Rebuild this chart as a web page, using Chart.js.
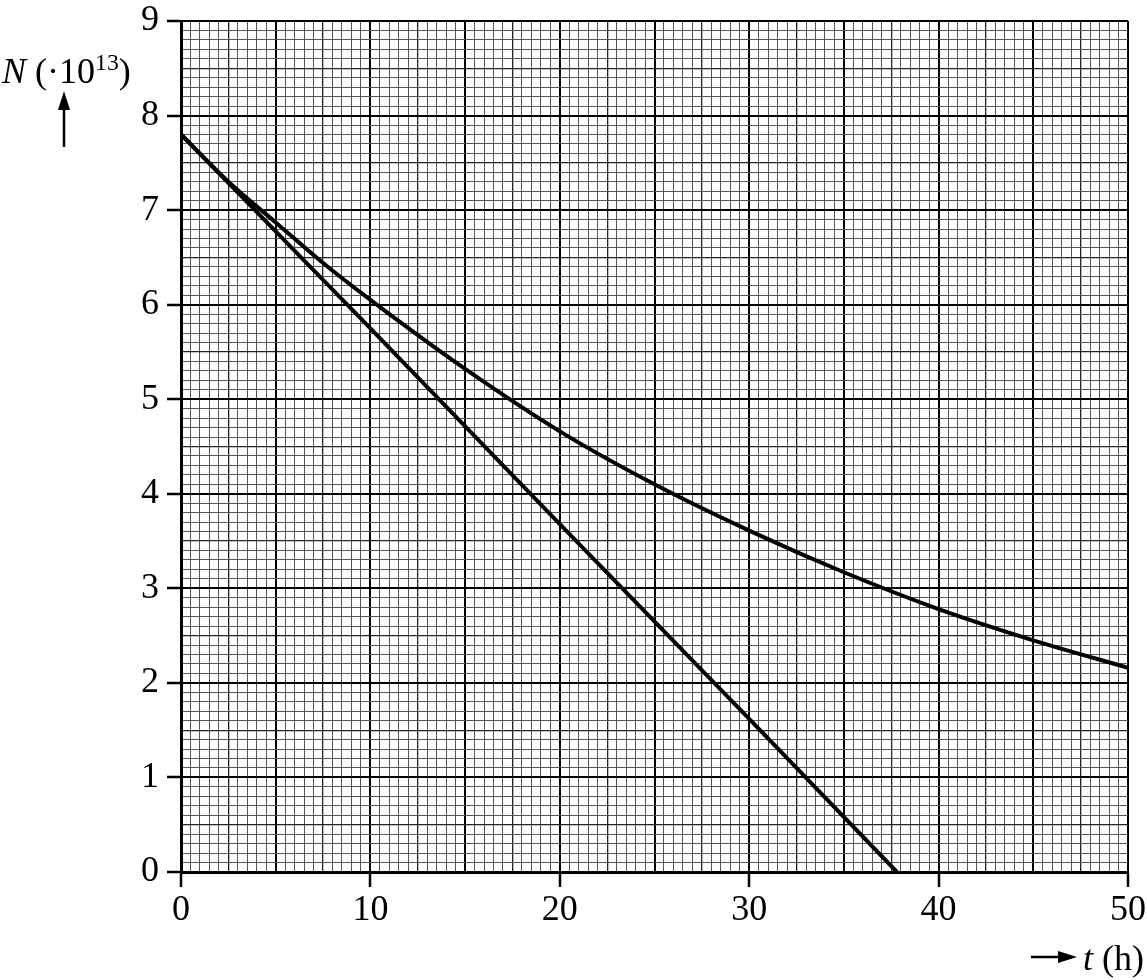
<!DOCTYPE html>
<html>
<head>
<meta charset="utf-8">
<title>N tegen t</title>
<script src="https://cdn.jsdelivr.net/npm/chart.js@4.4.0/dist/chart.umd.min.js"></script>
<style>
body{margin:0;background:#fff;}
#wrap{position:relative;width:1147px;height:980px;}
.lbl{position:absolute;font-family:"Liberation Serif","Times New Roman",serif;font-size:36px;color:#000;white-space:nowrap;line-height:1;}
.lbl sup{font-size:0.66em;vertical-align:0.55em;line-height:0;}
svg{position:absolute;left:0;top:0;}
</style>
</head>
<body>
<div id="wrap">
<canvas id="chart" width="1147" height="980"></canvas>
<div class="lbl" style="left:2px;top:53px;"><i>N</i> (·10<sup>13</sup>)</div>
<div class="lbl" style="left:1083px;top:940px;"><i>t</i> (h)</div>
<svg width="1147" height="980">
  <!-- arrow up next to N -->
  <line x1="64" y1="147" x2="64" y2="105" stroke="#000" stroke-width="2.5"/>
  <polygon points="64,91 58,110 70,110" fill="#000"/>
  <!-- arrow right next to t -->
  <line x1="1031" y1="957" x2="1062" y2="957" stroke="#000" stroke-width="2.5"/>
  <polygon points="1077,957 1058,951 1058,963" fill="#000"/>
</svg>
</div>
<script>
// curve (upper line)
var tCurve = [0, 2.5, 5, 7.5, 10, 15, 20, 25, 30, 35, 40, 45, 50];
var nCurve = [7.8, 7.3, 6.87, 6.44, 6.05, 5.32, 4.66, 4.10, 3.61, 3.17, 2.78, 2.45, 2.16];
// straight line (lower)
var tLine = [0, 10, 20, 30, 37.8];
var nLine = [7.8, 5.75, 3.68, 1.62, 0];
// tick labels
var xLabels = [0, 10, 20, 30, 40, 50];
var yLabels = [0, 1, 2, 3, 4, 5, 6, 7, 8, 9];

function pts(xs, ys){
  var out = [];
  for (var i = 0; i < xs.length; i++) out.push({x: xs[i], y: ys[i]});
  return out;
}
function isMult(v, m){
  var r = v / m;
  return Math.abs(r - Math.round(r)) < 1e-6;
}
function inList(v, list){
  for (var i = 0; i < list.length; i++) if (Math.abs(v - list[i]) < 1e-6) return true;
  return false;
}
function gridColor(v, major, mid){
  if (isMult(v, major)) return '#000';
  if (isMult(v, mid)) return '#222';
  return '#555';
}
function gridWidth(v, major, mid){
  if (isMult(v, major)) return 2;
  if (isMult(v, mid)) return 1.3;
  return 1;
}
// drop the label overflow padding so layout.padding decides the plot box
function noPad(s){
  s.paddingTop = 0; s.paddingBottom = 0; s.paddingLeft = 0; s.paddingRight = 0;
}
var font = {family: '"Liberation Serif", "Times New Roman", serif', size: 36};

var ctx = document.getElementById('chart').getContext('2d');
var chart = new Chart(ctx, {
  type: 'line',
  data: {
    datasets: [{
      data: pts(tCurve, nCurve),
      borderColor: '#000',
      borderWidth: 4,
      pointRadius: 0,
      cubicInterpolationMode: 'monotone',
      fill: false
    }, {
      data: pts(tLine, nLine),
      borderColor: '#000',
      borderWidth: 4,
      pointRadius: 0,
      fill: false
    }]
  },
  options: {
    responsive: false,
    animation: false,
    layout: {padding: {left: 0, top: 21, right: 19, bottom: 0}},
    plugins: {legend: {display: false}, tooltip: {enabled: false}},
    scales: {
      x: {
        type: 'linear',
        min: 0, max: 50,
        ticks: {
          stepSize: 0.5, maxTicksLimit: 1000, autoSkip: false, maxRotation: 0,
          color: '#000', font: font, padding: 2,
          callback: function(v){ return inList(v, xLabels) ? String(Math.round(v)) : ''; }
        },
        grid: {
          color: function(c){ return gridColor(c.tick.value, 5, 2.5); },
          lineWidth: function(c){ return gridWidth(c.tick.value, 5, 2.5); },
          tickColor: function(c){ return inList(c.tick.value, xLabels) ? '#000' : 'rgba(0,0,0,0)'; },
          tickWidth: 2.5,
          tickLength: 15
        },
        border: {color: '#000', width: 3},
        afterFit: function(s){ s.height = 108; noPad(s); }
      },
      y: {
        min: 0, max: 9,
        ticks: {
          stepSize: 0.1, maxTicksLimit: 1000, autoSkip: false,
          color: '#000', font: font, padding: 8,
          callback: function(v){ return inList(v, yLabels) ? String(Math.round(v)) : ''; }
        },
        grid: {
          color: function(c){ return gridColor(c.tick.value, 1, 0.5); },
          lineWidth: function(c){ return gridWidth(c.tick.value, 1, 0.5); },
          tickColor: function(c){ return inList(c.tick.value, yLabels) ? '#000' : 'rgba(0,0,0,0)'; },
          tickWidth: 2.5,
          tickLength: 14
        },
        border: {color: '#000', width: 3},
        afterFit: function(s){ s.width = 181; noPad(s); }
      }
    }
  }
});
</script>
</body>
</html>
